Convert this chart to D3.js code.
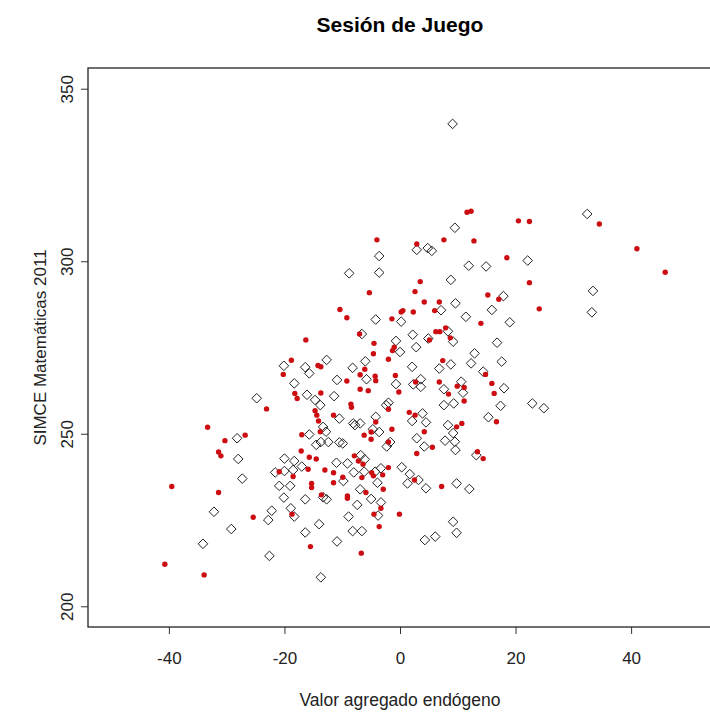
<!DOCTYPE html>
<html>
<head>
<meta charset="utf-8">
<script src="https://cdn.jsdelivr.net/npm/d3@7"></script>
<style>
  body { margin: 0; background: #fff; }
</style>
</head>
<body>
<div id="container"></div>
<script>
let w = 710;
let h = 714;

// chart text
let title = "Sesión de Juego";
let xLabel = "Valor agregado endógeno";
let yLabel = "SIMCE Matemáticas 2011";
let xTicks = [-40, -20, 0, 20, 40];
let yTicks = [200, 250, 300, 350];

// open diamonds (black)
let blackX = [9.1, 32.4, 9.5, -3.6, 2.9, 4.8, 5.5, 22.1, 11.9, 14.9,
  -8.8, -3.6, 8.8, 33.4, 17.9, 9.6, 15.9, 33.2, 7.1, 11.4,
  -4.2, 0.2, 19.0, -6.6, 2.2, 8.3, 9.2, 4.9, -0.7, 16.8,
  0.0, 2.8, 12.9, -12.7, -16.4, -15.7, -8.2, -6.0, 2.1, 8.8,
  6.8, 12.3, 17.6, -20.1, -5.8, -10.9, -0.7, 2.3, 3.6, 3.6,
  7.6, 14.4, 10.6, 10.9, 18.0, -18.3, -16.1, -11.4, -14.7, -13.8,
  -2.0, -2.4, 7.6, 9.3, 17.4, 22.9, 24.9, -24.8, -10.5, 3.9,
  4.5, 2.1, -8.1, -7.8, -6.9, -4.2, -13.3, 8.3, 15.3, -15.7,
  -12.8, -14.5, -13.7, -12.4, -10.5, -9.9, -4.7, -3.6, -1.7, -2.3,
  2.9, 4.2, 7.8, 9.2, 9.5, 9.6, -17.0, -11.0, -9.1, -6.8,
  -6.1, -8.0, -6.2, -9.8, -4.3, -3.9, -3.3, 0.3, 1.7, 1.3,
  3.2, 4.5, 9.8, 13.2, 12.0, -13.3, -12.7, -16.4, -6.9, -5.0,
  -3.3, -7.4, -3.8, -8.9, -14.0, -16.4, -8.2, -6.6, -10.9, 4.3,
  6.1, 9.2, 9.8, -13.7, -28.2, -28.0, -20.0, -18.3, -21.6, -20.0,
  -18.5, -27.3, -20.9, -19.0, -20.1, -32.2, -22.2, -18.9, -18.3, -22.8,
  -29.2, -34.1, -22.6];
let blackY = [339.8, 313.7, 309.7, 301.5, 303.3, 303.8, 303.0, 300.2, 298.7, 298.5,
  296.5, 296.7, 294.6, 291.4, 289.9, 287.8, 285.9, 285.2, 285.8, 283.9,
  283.1, 282.5, 282.3, 278.9, 278.7, 279.7, 276.7, 277.6, 276.9, 276.4,
  273.7, 275.1, 273.3, 271.4, 269.3, 267.5, 269.1, 271.0, 269.4, 270.1,
  268.9, 270.4, 270.9, 269.7, 265.8, 265.6, 264.4, 264.3, 265.8, 263.6,
  262.9, 268.0, 265.1, 261.9, 263.2, 264.6, 261.3, 260.9, 259.8, 258.3,
  259.0, 258.3, 258.3, 258.8, 258.1, 258.8, 257.4, 260.3, 254.4, 255.9,
  253.3, 253.7, 253.0, 252.5, 253.0, 254.9, 252.0, 252.5, 254.8, 249.8,
  250.6, 246.8, 247.6, 247.6, 247.5, 247.2, 251.3, 250.5, 247.6, 246.3,
  248.7, 246.3, 248.0, 250.2, 247.7, 245.3, 240.5, 241.6, 241.4, 243.8,
  242.6, 238.8, 239.0, 236.3, 239.0, 235.8, 240.0, 240.3, 238.3, 235.6,
  236.6, 234.2, 235.6, 243.8, 234.0, 231.6, 231.0, 231.0, 233.9, 231.1,
  230.1, 229.4, 226.3, 226.0, 223.8, 221.4, 221.8, 221.8, 218.8, 219.2,
  220.2, 224.5, 221.3, 208.4, 248.7, 242.7, 242.8, 242.1, 238.8, 239.2,
  239.5, 237.0, 234.9, 234.9, 231.5, 227.4, 227.7, 228.4, 226.0, 225.0,
  222.4, 218.1, 214.6];

// filled dots (red)
let redX = [11.6, 12.3, 20.5, 22.4, 34.5, 12.8, 18.5, -4.0, 2.9, 7.6,
  41.0, 45.9, 3.5, -5.3, 2.6, 4.2, 6.8, -10.4, 0.2, 0.5,
  2.3, 6.0, -9.2, -1.4, -7.0, 6.2, 6.9, 7.9, 8.7, 5.1,
  -16.3, -4.5, -1.0, -1.3, -4.6, -2.0, -14.2, -13.7, -6.1, 7.4,
  -6.9, -4.3, -4.2, -0.8, -9.2, 2.7, 6.8, 8.4, 9.9, -6.9,
  -5.5, -0.2, -13.7, -8.5, -8.4, -2.0, -14.7, -14.4, -11.5, 1.6,
  2.6, -4.2, -14.1, -1.4, 9.8, 22.4, 15.2, 17.1, 24.1, 14.0,
  14.8, 15.9, 11.1, 11.1, 16.3, 10.7, 16.7, -17.0, -13.8, -6.2,
  -5.0, -5.0, -2.0, 4.2, 5.6, 2.9, -17.1, -15.7, -14.5, -13.0,
  -15.9, -11.5, -11.5, -7.9, -7.2, -6.4, -6.6, -9.9, -4.9, -4.6,
  -3.0, -2.0, -2.9, 2.5, 7.2, -15.3, -15.3, -13.6, -9.1, -9.1,
  -5.9, -3.3, -4.5, -0.1, -3.6, -15.5, -6.7, 13.4, 14.4, -33.3,
  -30.3, -26.8, -31.4, -31.0, -20.9, -18.5, -39.5, -31.4, -18.7, -25.4,
  -40.7, -33.9, -18.8, -20.2, -18.2, -17.8, -23.1];
let redY = [314.2, 314.5, 311.7, 311.5, 310.8, 305.9, 301.0, 306.2, 305.0, 306.2,
  303.6, 296.8, 294.1, 290.9, 291.2, 288.2, 288.2, 286.0, 285.3, 285.7,
  285.3, 285.7, 283.6, 283.3, 278.9, 279.6, 279.6, 280.7, 277.8, 277.2,
  277.2, 276.2, 275.1, 274.1, 273.2, 271.6, 269.8, 269.4, 268.7, 271.2,
  267.1, 266.7, 265.4, 266.9, 265.3, 265.0, 265.0, 261.5, 263.8, 262.9,
  262.5, 262.1, 261.8, 258.6, 257.7, 257.1, 256.7, 255.4, 255.4, 256.2,
  255.4, 253.4, 253.7, 251.3, 252.0, 293.8, 290.2, 289.0, 286.2, 282.0,
  267.2, 264.6, 263.4, 259.5, 261.7, 253.0, 253.5, 249.7, 250.6, 249.6,
  250.5, 248.4, 247.6, 250.6, 246.1, 244.3, 245.0, 243.2, 242.7, 239.5,
  239.7, 238.7, 235.8, 243.6, 242.1, 241.2, 237.3, 237.4, 238.7, 237.8,
  238.1, 240.2, 233.9, 236.6, 234.7, 235.6, 234.4, 232.3, 232.0, 231.3,
  233.0, 228.4, 226.7, 226.7, 223.1, 217.3, 215.4, 244.8, 242.8, 251.9,
  248.0, 249.6, 244.7, 243.6, 239.0, 237.6, 234.7, 233.0, 226.7, 225.8,
  212.2, 209.1, 271.3, 267.2, 261.7, 260.2, 257.2];

let viz = d3.select("#container")
  .append("svg")
    .attr("width", w)
    .attr("height", h)
    .style("background-color", "white")
    .style("font-family", "'Liberation Sans', Arial, sans-serif")
;

// plot region (R pads the limits by 4%)
let pLeft = 88, pRight = 712, pTop = 68, pBottom = 627;
let xScale = d3.scaleLinear().domain([-54, 54]).range([pLeft, pRight]);
let yScale = d3.scaleLinear().domain([194, 356]).range([pBottom, pTop]);

// axes (plain hyphen for negatives, like R)
let xAxis = viz.append("g")
  .attr("transform", "translate(0," + pBottom + ")")
  .call(d3.axisBottom(xScale).tickValues(xTicks).tickSize(7).tickPadding(18).tickFormat(d => String(d)));
xAxis.select(".domain").remove();
xAxis.selectAll("text").style("font-size", "17px").attr("fill", "#222");
xAxis.selectAll("line").attr("stroke", "#333");

let yAxis = viz.append("g")
  .attr("transform", "translate(" + pLeft + ",0)")
  .call(d3.axisLeft(yScale).tickValues(yTicks).tickSize(7).tickFormat(d => String(d)));
yAxis.select(".domain").remove();
yAxis.selectAll("line").attr("stroke", "#333");
yAxis.selectAll("text")
  .attr("x", null).attr("dy", null)
  .attr("text-anchor", "middle")
  .attr("transform", "translate(-15,0) rotate(-90)")
  .attr("y", 0)
  .style("font-size", "17px")
  .attr("fill", "#222");

// box
viz.append("rect")
  .attr("x", pLeft).attr("y", pTop)
  .attr("width", pRight - pLeft).attr("height", pBottom - pTop)
  .attr("fill", "none")
  .attr("stroke", "#222")
  .attr("stroke-width", 1.3);

// points
let blackPts = blackX.map((d, i) => ({x: d, y: blackY[i]}));
let redPts = redX.map((d, i) => ({x: d, y: redY[i]}));

let r = 4.8;
viz.append("g").selectAll(".diamond").data(blackPts).enter()
  .append("path")
    .attr("class", "diamond")
    .attr("d", "M0," + (-r) + "L" + r + ",0L0," + r + "L" + (-r) + ",0Z")
    .attr("transform", (d, i) => "translate(" + xScale(d.x) + "," + yScale(d.y) + ")")
    .attr("fill", "none")
    .attr("stroke", "#222")
    .attr("stroke-width", 1)
;

viz.append("g").selectAll(".dot").data(redPts).enter()
  .append("circle")
    .attr("class", "dot")
    .attr("cx", (d, i) => xScale(d.x))
    .attr("cy", (d, i) => yScale(d.y))
    .attr("r", 2.7)
    .attr("fill", "#cc0e12")
;

// titles
viz.append("text")
  .attr("x", (pLeft + pRight) / 2).attr("y", 32)
  .attr("text-anchor", "middle")
  .style("font-size", "21px").style("font-weight", "bold")
  .text(title);

viz.append("text")
  .attr("x", (pLeft + pRight) / 2).attr("y", 706)
  .attr("text-anchor", "middle")
  .style("font-size", "17.5px").attr("fill", "#222")
  .text(xLabel);

viz.append("text")
  .attr("transform", "translate(46," + ((pTop + pBottom) / 2) + ") rotate(-90)")
  .attr("text-anchor", "middle")
  .style("font-size", "17px").attr("fill", "#222")
  .text(yLabel);
</script>
</body>
</html>
